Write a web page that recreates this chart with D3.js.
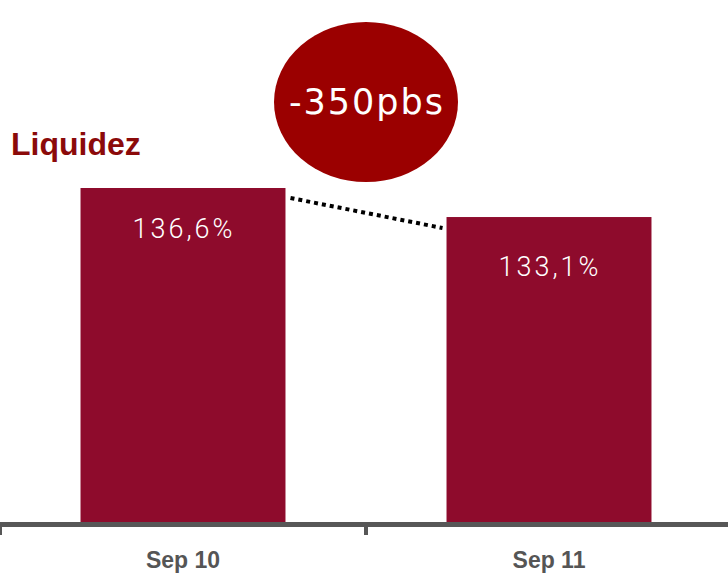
<!DOCTYPE html>
<html><head><meta charset="utf-8">
<script src="https://cdn.jsdelivr.net/npm/d3@7"></script>
<style>html,body{margin:0;padding:0;background:#fff;}svg{display:block;}</style>
</head><body>
<svg id="chart" width="728" height="574"></svg>
<script>
const categories = ["Sep 10", "Sep 11"];
const values = [136.6, 133.1];
const valueLabels = ["136,6%", "133,1%"];
const title = "Liquidez";
const changeLabel = "-350pbs";

const svg = d3.select("#chart");
const W = 728, H = 574;
const baseY = 524;

const x = d3.scaleBand().domain(categories).range([0, 732]).paddingInner(0.44).paddingOuter(0.22);
const y = d3.scaleLinear().domain([96.1, 136.6]).range([baseY, 188]);

// bars
svg.selectAll("rect.bar").data(values).join("rect")
  .attr("class", "bar")
  .attr("x", (d, i) => x(categories[i]))
  .attr("y", d => y(d))
  .attr("width", x.bandwidth())
  .attr("height", d => baseY - y(d))
  .attr("fill", "#8e0b2c");

// value labels
const labelOffsets = [50, 59];
svg.selectAll("text.val").data(values).join("text")
  .attr("class", "val")
  .attr("x", (d, i) => x(categories[i]) + x.bandwidth() / 2 + 1)
  .attr("y", (d, i) => y(d) + labelOffsets[i])
  .attr("text-anchor", "middle")
  .attr("fill", "#fff")
  .style("font-family", "Roboto, 'Open Sans', sans-serif")
  .style("font-weight", "300")
  .style("font-size", "27px")
  .style("letter-spacing", "3px")
  .text((d, i) => valueLabels[i]);

// dotted connector
svg.append("line")
  .attr("x1", x(categories[0]) + x.bandwidth() + 5)
  .attr("y1", y(values[0]) + 10)
  .attr("x2", x(categories[1]) - 4)
  .attr("y2", y(values[1]) + 11)
  .attr("stroke", "#000")
  .attr("stroke-width", 4)
  .attr("stroke-dasharray", "4,4");

// axis
const axisG = svg.append("g").attr("transform", `translate(0,${baseY})`);
axisG.append("line").attr("x1", 0).attr("x2", W).attr("y1", 0.5).attr("y2", 0.5)
  .attr("stroke", "#575757").attr("stroke-width", 5);
const tickXs = [1, x.step(), 2 * x.step()];
axisG.selectAll("line.tick").data(tickXs).join("line")
  .attr("class", "tick")
  .attr("x1", d => d).attr("x2", d => d).attr("y1", 0).attr("y2", 11)
  .attr("stroke", "#575757").attr("stroke-width", d => d < 5 ? 2 : 4);
axisG.selectAll("text.cat").data(categories).join("text")
  .attr("class", "cat")
  .attr("x", d => x(d) + x.bandwidth() / 2)
  .attr("y", 44)
  .attr("text-anchor", "middle")
  .attr("fill", "#555")
  .style("font-family", "'Liberation Sans', Arial, sans-serif")
  .style("font-weight", "bold")
  .style("font-size", "23px")
  .text(d => d);

// title
svg.append("text")
  .attr("x", 11).attr("y", 155)
  .attr("fill", "#8b0a0a")
  .style("font-family", "'Liberation Sans', Arial, sans-serif")
  .style("font-weight", "bold")
  .style("font-size", "32px")
  .text(title);

// change bubble
const cx = x.step(), cy = 102;
svg.append("ellipse")
  .attr("cx", cx).attr("cy", cy).attr("rx", 92).attr("ry", 80)
  .attr("fill", "#9b0000");
svg.append("text")
  .attr("x", cx + 1).attr("y", cy + 12)
  .attr("text-anchor", "middle")
  .attr("fill", "#fff")
  .style("font-family", "'DejaVu Sans', sans-serif")
  .style("font-size", "35px")
  .style("letter-spacing", "2px")
  .text(changeLabel);
</script>
</body></html>
